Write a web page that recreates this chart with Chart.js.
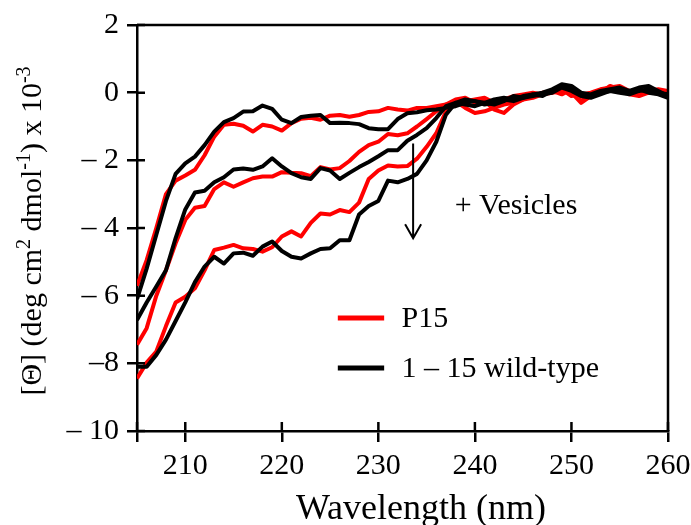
<!DOCTYPE html>
<html>
<head>
<meta charset="utf-8">
<script src="https://cdn.jsdelivr.net/npm/chart.js@4.4.0/dist/chart.umd.min.js"></script>
<style>
  html, body { margin: 0; padding: 0; background: #fff; }
  #wrap { width: 691px; height: 525px; }
</style>
</head>
<body>
<div id="wrap"><canvas id="myChart"></canvas></div>
<script>
// wavelength (nm), one reading per nm
const wavelengths = [205, 206, 207, 208, 209, 210, 211, 212, 213, 214,
  215, 216, 217, 218, 219, 220, 221, 222, 223, 224,
  225, 226, 227, 228, 229, 230, 231, 232, 233, 234,
  235, 236, 237, 238, 239, 240, 241, 242, 243, 244,
  245, 246, 247, 248, 249, 250, 251, 252, 253, 254,
  255, 256, 257, 258, 259, 260];

// [Θ] x 10^-3
const p15Free = [-5.71, -4.95, -4.0, -3.0, -2.6, -2.45, -2.28, -1.85, -1.3, -0.95,
  -0.92, -0.98, -1.15, -0.95, -1.0, -1.12, -0.9, -0.77, -0.74, -0.8,
  -0.68, -0.66, -0.71, -0.66, -0.57, -0.55, -0.45, -0.5, -0.53, -0.45,
  -0.45, -0.4, -0.35, -0.35, -0.25, -0.2, -0.15, -0.3, -0.2, -0.1,
  -0.05, 0.0, -0.05, 0.05, 0.1, -0.1, -0.05, 0.0, 0.1, 0.15,
  0.2, 0.05, 0.0, 0.05, 0.0, -0.05];
const p15Mid = [-7.45, -6.96, -6.0, -5.25, -4.45, -3.76, -3.4, -3.35, -2.85, -2.65,
  -2.78, -2.65, -2.53, -2.48, -2.48, -2.35, -2.37, -2.38, -2.47, -2.2,
  -2.27, -2.23, -2.02, -1.75, -1.55, -1.45, -1.22, -1.26, -1.2, -1.0,
  -0.78, -0.55, -0.35, -0.2, -0.15, -0.3, -0.25, -0.5, -0.6, -0.35,
  -0.2, -0.1, 0.0, 0.05, -0.05, 0.1, -0.25, -0.05, 0.05, 0.1,
  0.15, -0.05, -0.1, 0.0, 0.05, 0.0];
const p15Vesicles = [-8.45, -7.98, -7.65, -6.9, -6.2, -6.03, -5.78, -5.25, -4.65, -4.58,
  -4.5, -4.6, -4.62, -4.7, -4.57, -4.25, -4.1, -4.25, -3.85, -3.57,
  -3.6, -3.47, -3.53, -3.25, -2.55, -2.3, -2.15, -2.18, -2.17, -1.95,
  -1.6, -1.2, -0.55, -0.25, -0.45, -0.6, -0.55, -0.45, -0.35, -0.3,
  -0.2, -0.15, -0.05, 0.0, 0.05, 0.0, -0.3, -0.1, 0.0, 0.2,
  0.1, 0.0, -0.05, 0.05, 0.1, 0.05];
const wtFree = [-6.1, -5.2, -4.2, -3.2, -2.4, -2.09, -1.89, -1.55, -1.15, -0.87,
  -0.75, -0.56, -0.55, -0.38, -0.48, -0.8, -0.9, -0.72, -0.68, -0.66,
  -0.9, -0.89, -0.9, -0.93, -1.05, -1.08, -1.08, -0.78, -0.61, -0.58,
  -0.52, -0.5, -0.45, -0.4, -0.3, -0.25, -0.3, -0.2, -0.15, -0.2,
  -0.1, -0.05, 0.0, 0.1, 0.25, 0.2, 0.0, -0.05, 0.05, 0.1,
  0.15, 0.05, 0.15, 0.2, 0.05, -0.1];
const wtMid = [-6.72, -6.2, -5.73, -5.25, -4.3, -3.45, -2.95, -2.9, -2.65, -2.5,
  -2.27, -2.24, -2.28, -2.18, -1.94, -2.18, -2.38, -2.5, -2.55, -2.23,
  -2.3, -2.55, -2.37, -2.2, -2.05, -1.88, -1.7, -1.7, -1.42, -1.25,
  -1.05, -0.75, -0.4, -0.3, -0.35, -0.4, -0.3, -0.35, -0.25, -0.1,
  -0.15, -0.1, -0.05, 0.0, 0.15, 0.05, -0.1, -0.15, -0.05, 0.05,
  0.1, 0.0, 0.1, 0.0, -0.05, -0.15];
const wtVesicles = [-8.1, -8.1, -7.75, -7.3, -6.75, -6.2, -5.6, -5.14, -4.85, -5.05,
  -4.75, -4.73, -4.82, -4.55, -4.4, -4.68, -4.85, -4.9, -4.75, -4.62,
  -4.6, -4.36, -4.36, -3.6, -3.35, -3.2, -2.6, -2.65, -2.55, -2.4,
  -2.0, -1.45, -0.65, -0.3, -0.2, -0.25, -0.35, -0.3, -0.2, -0.25,
  -0.15, -0.05, -0.1, 0.05, 0.2, 0.1, -0.05, -0.1, 0.0, 0.05,
  0.0, -0.05, 0.05, 0.1, 0.0, -0.05];

const seriesNames = ['P15', '1 – 15 wild-type'];
const xTickValues = [205, 210, 220, 230, 240, 250, 260];
const yTickValues = [-10, -8, -6, -4, -2, 0, 2];
const yTickText = ['– 10', '–8', '– 6', '– 4', '– 2', '0', '2'];

const RED = '#ff0000';
const BLACK = '#000000';
const SERIF = "'Liberation Serif', 'Times New Roman', serif";

function toPoints(values) {
  return wavelengths.map((w, i) => ({ x: w, y: values[i] }));
}

function curve(values, color, name) {
  return {
    label: name,
    data: toPoints(values),
    borderColor: color,
    borderWidth: 4,
    pointRadius: 0,
    tension: 0,
    borderJoinStyle: 'round',
    fill: false,
  };
}

// frame, inward ticks, arrow, in-plot legend and axis titles
const decor = {
  id: 'decor',
  afterDraw(chart) {
    const { ctx, chartArea: a, scales: { x, y } } = chart;
    ctx.save();
    ctx.strokeStyle = BLACK;
    ctx.fillStyle = BLACK;
    ctx.lineWidth = 2.5;

    ctx.beginPath();
    ctx.moveTo(a.left, a.top);
    ctx.lineTo(a.right, a.top);
    ctx.lineTo(a.right, a.bottom);
    ctx.stroke();

    ctx.beginPath();
    xTickValues.forEach((v) => {
      const px = x.getPixelForValue(v);
      ctx.moveTo(px, a.bottom);
      ctx.lineTo(px, a.bottom - 9);
    });
    yTickValues.forEach((v) => {
      const py = y.getPixelForValue(v);
      ctx.moveTo(a.left, py);
      ctx.lineTo(a.left + 8, py);
    });
    ctx.stroke();

    // arrow
    const ax = x.getPixelForValue(233.6);
    const ay0 = y.getPixelForValue(-1.5);
    const ay1 = y.getPixelForValue(-4.3);
    ctx.lineWidth = 2;
    ctx.beginPath();
    ctx.moveTo(ax, ay0);
    ctx.lineTo(ax, ay1);
    ctx.moveTo(ax - 8, ay1 - 14);
    ctx.lineTo(ax, ay1);
    ctx.lineTo(ax + 8, ay1 - 14);
    ctx.stroke();

    ctx.font = '30px ' + SERIF;
    ctx.textBaseline = 'alphabetic';
    ctx.textAlign = 'left';
    ctx.fillText('+ Vesicles', x.getPixelForValue(237.9), y.getPixelForValue(-3.6));

    // legend
    const legendRows = [
      { name: seriesNames[0], color: RED, at: -6.66 },
      { name: seriesNames[1], color: BLACK, at: -8.14 },
    ];
    legendRows.forEach((row) => {
      const py = y.getPixelForValue(row.at);
      ctx.strokeStyle = row.color;
      ctx.lineWidth = 5;
      ctx.beginPath();
      ctx.moveTo(x.getPixelForValue(225.8), py);
      ctx.lineTo(x.getPixelForValue(230.6), py);
      ctx.stroke();
      ctx.textBaseline = 'middle';
      ctx.fillText(row.name, x.getPixelForValue(232.4), py + 1);
    });

    // x title
    ctx.textAlign = 'center';
    ctx.textBaseline = 'alphabetic';
    ctx.font = '36px ' + SERIF;
    ctx.fillText('Wavelength (nm)', 421, 519);

    // y title with superscripts
    const runs = [
      { t: '[Θ] (deg cm' }, { t: '2', sup: true },
      { t: ' dmol' }, { t: '-1', sup: true },
      { t: ') x 10' }, { t: '-3', sup: true },
    ];
    const big = '30px ' + SERIF;
    const small = '20px ' + SERIF;
    let total = 0;
    runs.forEach((r) => {
      ctx.font = r.sup ? small : big;
      r.w = ctx.measureText(r.t).width;
      total += r.w;
    });
    ctx.translate(41, 231);
    ctx.rotate(-Math.PI / 2);
    ctx.textAlign = 'left';
    let cx = -total / 2;
    runs.forEach((r) => {
      ctx.font = r.sup ? small : big;
      ctx.fillText(r.t, cx, r.sup ? -11 : 0);
      cx += r.w;
    });
    ctx.restore();
  },
};

Chart.defaults.font.family = SERIF;
Chart.defaults.color = BLACK;

const ctx = document.getElementById('myChart').getContext('2d');
const chart = new Chart(ctx, {
  type: 'line',
  data: {
    datasets: [
      curve(wtFree, BLACK, seriesNames[1]),
      curve(wtMid, BLACK, seriesNames[1]),
      curve(wtVesicles, BLACK, seriesNames[1]),
      curve(p15Free, RED, seriesNames[0]),
      curve(p15Mid, RED, seriesNames[0]),
      curve(p15Vesicles, RED, seriesNames[0]),
    ],
  },
  options: {
    responsive: true,
    maintainAspectRatio: false,
    animation: false,
    layout: { padding: { top: 25, right: 23, left: 0, bottom: 0 } },
    plugins: {
      legend: { display: false },
      tooltip: { enabled: false },
    },
    scales: {
      x: {
        type: 'linear',
        min: 205,
        max: 260,
        afterBuildTicks: (s) => { s.ticks = xTickValues.map((v) => ({ value: v })); },
        afterFit: (s) => {
          s.height = 94;
          s.paddingLeft = 0;
          s.paddingRight = 0;
        },
        ticks: {
          font: { size: 30 },
          padding: 6,
          maxRotation: 0,
          callback: (v) => (v === 205 ? '' : String(v)),
        },
        grid: { drawOnChartArea: false, tickLength: 11, color: BLACK, lineWidth: 2.5 },
        border: { color: BLACK, width: 2.5 },
      },
      y: {
        min: -10,
        max: 2,
        afterBuildTicks: (s) => { s.ticks = yTickValues.map((v) => ({ value: v })); },
        afterFit: (s) => {
          s.width = 137;
          s.paddingTop = 0;
          s.paddingBottom = 0;
        },
        ticks: {
          font: { size: 30 },
          padding: 8,
          callback: (v) => yTickText[yTickValues.indexOf(v)],
        },
        grid: { drawOnChartArea: false, tickLength: 10, color: BLACK, lineWidth: 2.5 },
        border: { color: BLACK, width: 2.5 },
      },
    },
  },
  plugins: [decor],
});
</script>
</body>
</html>
